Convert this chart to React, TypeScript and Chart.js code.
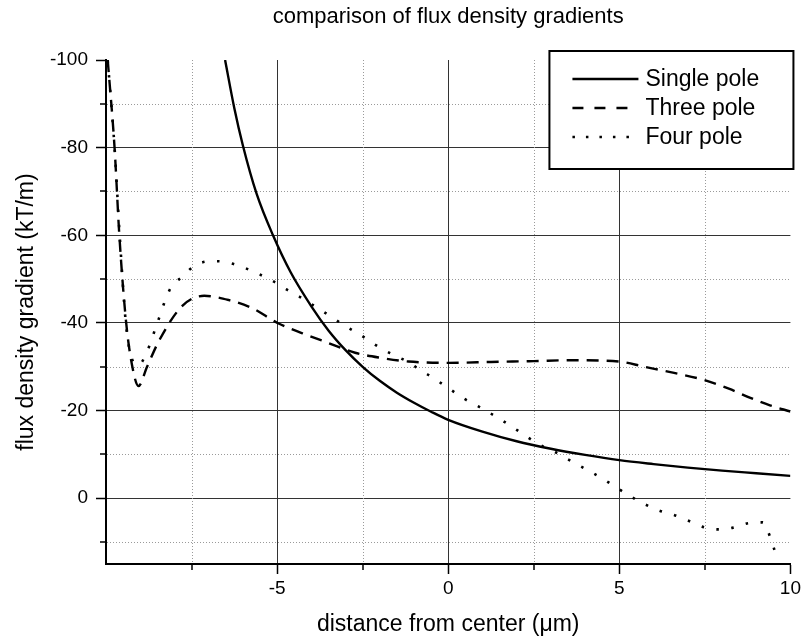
import React, { useEffect, useRef } from "react";
import { Chart, registerables } from "chart.js";

Chart.register(...registerables);

const FONT = "'Liberation Sans', Arial, Helvetica, sans-serif";

const TITLE = "comparison of flux density gradients";
const X_TITLE = "distance from center (\u03bcm)";
const Y_TITLE = "flux density gradient (kT/m)";
const SERIES_LABELS = ["Single pole", "Three pole", "Four pole"];

const X_MIN = -10;
const X_MAX = 10;
const Y_MIN = -100;
const Y_MAX = 15;
const X_MAJOR = [-10, -5, 0, 5, 10];
const X_MINOR = [-7.5, -2.5, 2.5, 7.5];
const Y_MAJOR = [-100, -80, -60, -40, -20, 0];
const Y_MINOR = [-90, -70, -50, -30, -10, 10];

// Single pole (solid)
const singleX = [-6.52, -6.25, -6.0, -5.6, -5.12, -4.6, -4.0, -3.5, -3.0, -2.5, -2.0, -1.5, -1.0, -0.5, 0, 1, 2, 3, 4, 5, 6, 7, 8, 9, 10];
const singleY = [-100, -89, -80.5, -69.5, -60, -51.5, -43.8, -38.3, -33.8, -30.0, -26.8, -24.1, -21.8, -19.75, -17.9, -15.2, -13.0, -11.3, -9.9, -8.7, -7.8, -7.0, -6.3, -5.7, -5.1];

// Three pole (dashed)
const threeX = [-9.95, -9.75, -9.61, -9.41, -9.23, -9.05, -8.8, -8.44, -7.77, -7.13, -6.4, -5.73, -4.99, -4.28, -3.49, -2.72, -1.94, -1.16, 0, 1.25, 2.5, 3.6, 5, 5.73, 6.6, 7.47, 8.2, 8.83, 9.4, 10];
const threeY = [-100, -80, -60, -40, -30, -25.6, -30, -36.1, -43.9, -46.2, -45.2, -43.4, -40, -37.7, -35.4, -33.2, -32.0, -31.2, -30.9, -31.1, -31.3, -31.5, -31.2, -30.0, -28.6, -27.0, -25.0, -22.9, -21.2, -19.8];

// Four pole (dotted)
const fourX = [-9.95, -9.75, -9.6, -9.42, -9.25, -9.05, -8.8, -8.5, -8.15, -7.77, -7.38, -6.91, -6.5, -6.03, -5.63, -5.16, -4.74, -4.28, -3.88, -3.49, -3.01, -2.57, -2.13, -1.7, -1.2, -0.78, -0.35, 0.05, 0.49, 0.92, 1.36, 1.79, 2.23, 2.67, 3.11, 3.54, 3.98, 4.42, 4.85, 5.29, 5.73, 6.16, 6.6, 7.04, 7.47, 7.89, 8.33, 8.76, 9.19, 9.41, 9.6];
const fourY = [-100, -80, -60, -40, -32, -30.4, -33.5, -40, -47.4, -50.6, -53.2, -54.1, -53.9, -52.8, -51.5, -49.7, -47.7, -45.7, -43.7, -41.8, -39.3, -37.3, -35.0, -33.1, -31.2, -29.1, -27.0, -24.9, -22.6, -20.8, -18.8, -16.7, -14.4, -12.2, -10.6, -8.7, -6.8, -4.9, -2.8, -0.6, 1.3, 2.8, 3.8, 5.2, 6.6, 7.1, 6.7, 5.7, 5.5, 8.9, 13.5];

const SERIES_DASH = [[], [12, 8], [2.5, 12.5]];
const LEGEND_DASH = [[], [11, 11], [2.5, 11]];

const toPoints = (xs: number[], ys: number[]) => xs.map((x, i) => ({ x, y: ys[i] }));

const minorPlugin = {
  id: "minorGrid",
  beforeDatasetsDraw(chart: any) {
    const { ctx, chartArea, scales } = chart;
    const { left, right, top, bottom } = chartArea;
    const xs = scales.x;
    const ys = scales.y;
    ctx.save();
    ctx.strokeStyle = "#9a9a9a";
    ctx.lineWidth = 1;
    ctx.setLineDash([1, 2]);
    X_MINOR.forEach((v) => {
      const px = Math.round(xs.getPixelForValue(v)) + 0.5;
      ctx.beginPath();
      ctx.moveTo(px, top);
      ctx.lineTo(px, bottom - 1);
      ctx.stroke();
    });
    Y_MINOR.forEach((v) => {
      const py = Math.round(ys.getPixelForValue(v)) + 0.5;
      ctx.beginPath();
      ctx.moveTo(left + 1, py);
      ctx.lineTo(right, py);
      ctx.stroke();
    });
    ctx.setLineDash([]);
    ctx.strokeStyle = "#000";
    ctx.lineWidth = 1.5;
    X_MINOR.forEach((v) => {
      const px = Math.round(xs.getPixelForValue(v));
      ctx.beginPath();
      ctx.moveTo(px, bottom);
      ctx.lineTo(px, bottom + 6);
      ctx.stroke();
    });
    Y_MINOR.forEach((v) => {
      const py = Math.round(ys.getPixelForValue(v));
      ctx.beginPath();
      ctx.moveTo(left - 6, py);
      ctx.lineTo(left, py);
      ctx.stroke();
    });
    ctx.restore();
  },
};

const legendPlugin = {
  id: "boxLegend",
  afterDatasetsDraw(chart: any) {
    const { ctx, chartArea } = chart;
    const boxRight = chartArea.right + 3;
    const boxLeft = boxRight - 244;
    const boxTop = chartArea.top - 9;
    const boxH = 118;
    ctx.save();
    ctx.fillStyle = "#fff";
    ctx.fillRect(boxLeft, boxTop, boxRight - boxLeft, boxH);
    ctx.strokeStyle = "#000";
    ctx.lineWidth = 2;
    ctx.strokeRect(boxLeft, boxTop, boxRight - boxLeft, boxH);
    ctx.font = `23px ${FONT}`;
    ctx.textBaseline = "middle";
    ctx.textAlign = "left";
    ctx.fillStyle = "#000";
    const rows = [79, 108, 137];
    chart.data.datasets.forEach((ds: any, i: number) => {
      const y = rows[i];
      ctx.beginPath();
      ctx.setLineDash(LEGEND_DASH[i]);
      ctx.lineWidth = 2.5;
      ctx.moveTo(boxLeft + 23, y);
      ctx.lineTo(boxLeft + 89, y);
      ctx.stroke();
      ctx.setLineDash([]);
      ctx.fillText(ds.label, boxLeft + 96, y + 1);
    });
    ctx.restore();
  },
};

export default function App() {
  const canvasRef = useRef<HTMLCanvasElement | null>(null);

  useEffect(() => {
    if (!canvasRef.current) return;
    Chart.defaults.font.family = FONT;
    const chart = new Chart(canvasRef.current, {
      type: "scatter",
      data: {
        datasets: [
          { label: SERIES_LABELS[0], data: toPoints(singleX, singleY), borderDash: SERIES_DASH[0], borderWidth: 2.4 },
          { label: SERIES_LABELS[1], data: toPoints(threeX, threeY), borderDash: SERIES_DASH[1], borderWidth: 2.4 },
          { label: SERIES_LABELS[2], data: toPoints(fourX, fourY), borderDash: SERIES_DASH[2], borderWidth: 2.6 },
        ].map((d) => ({
          ...d,
          showLine: true,
          borderColor: "#000",
          backgroundColor: "#000",
          pointRadius: 0,
          pointHoverRadius: 0,
          fill: false,
          cubicInterpolationMode: "monotone",
          borderCapStyle: "butt",
        })) as any,
      },
      options: {
        animation: false,
        responsive: true,
        maintainAspectRatio: false,
        layout: { padding: { left: 0, right: 11, top: 0, bottom: 0 } },
        plugins: {
          legend: { display: false },
          tooltip: { enabled: false },
          title: {
            display: true,
            text: TITLE,
            fullSize: false,
            color: "#000",
            font: { size: 22, weight: "normal", family: FONT, lineHeight: 1.2 },
            padding: { top: 4, bottom: 29.6 },
          },
        },
        scales: {
          x: {
            type: "linear",
            min: X_MIN,
            max: X_MAX,
            afterBuildTicks: (s: any) => {
              s.ticks = X_MAJOR.map((v) => ({ value: v }));
            },
            afterFit: (s: any) => {
              s.height = 80;
            },
            ticks: {
              autoSkip: false,
              maxRotation: 0,
              color: "#000",
              padding: 3,
              font: { size: 19, family: FONT },
              callback: (v: any) => (v === X_MIN ? "" : String(v)),
            },
            grid: {
              color: (c: any) => (c.tick && (c.tick.value === X_MIN || c.tick.value === X_MAX) ? "rgba(0,0,0,0)" : "#333"),
              tickColor: (c: any) => (c.tick && c.tick.value === X_MIN ? "rgba(0,0,0,0)" : "#000"),
              lineWidth: 1,
              tickLength: 10,
              tickWidth: 1.5,
            },
            border: { display: true, color: "#000", width: 2 },
            title: {
              display: true,
              text: X_TITLE,
              color: "#000",
              font: { size: 23, family: FONT, lineHeight: 1.2 },
              padding: { top: 0, bottom: 6 },
            },
          },
          y: {
            type: "linear",
            min: Y_MIN,
            max: Y_MAX,
            reverse: true,
            afterBuildTicks: (s: any) => {
              s.ticks = Y_MAJOR.map((v) => ({ value: v }));
            },
            afterFit: (s: any) => {
              s.width = 106;
            },
            ticks: {
              autoSkip: false,
              color: "#000",
              padding: 8,
              font: { size: 19, family: FONT },
              callback: (v: any) => String(v),
            },
            grid: {
              color: (c: any) => (c.tick && c.tick.value === Y_MIN ? "rgba(0,0,0,0)" : "#333"),
              tickColor: "#000",
              lineWidth: 1,
              tickLength: 10,
              tickWidth: 1.5,
            },
            border: { display: true, color: "#000", width: 2 },
            title: {
              display: true,
              text: Y_TITLE,
              color: "#000",
              font: { size: 23, family: FONT, lineHeight: 1.2 },
              padding: { top: 13, bottom: 0 },
            },
          },
        },
      } as any,
      plugins: [minorPlugin, legendPlugin],
    });
    return () => chart.destroy();
  }, []);

  return (
    <div style={{ position: "absolute", left: 0, top: 0, width: 804, height: 644, background: "#fff" }}>
      <canvas ref={canvasRef} />
    </div>
  );
}
